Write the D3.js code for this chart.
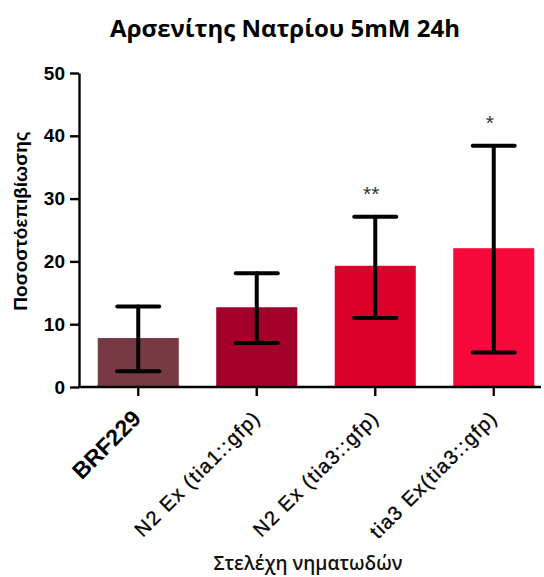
<!DOCTYPE html>
<html>
<head>
<meta charset="utf-8">
<script src="https://cdn.jsdelivr.net/npm/d3@7"></script>
<style>
  html, body { margin: 0; padding: 0; background: #fff; }
  svg { display: block; }
</style>
</head>
<body>
<svg id="chart" width="544" height="577"></svg>
<script>
// Survival (%) of nematode strains after 24h in 5mM sodium arsenite
const strains = ["BRF229", "N2 Ex (tia1::gfp)", "N2 Ex (tia3::gfp)", "tia3 Ex(tia3::gfp)"];
const meanSurvival = [7.8, 12.7, 19.3, 22.1];
const errLow = [2.5, 7.0, 11.0, 5.5];
const errHigh = [12.8, 18.1, 27.1, 38.4];
const significance = ["", "", "**", "*"];
const barColors = ["#773A44", "#A2002B", "#DA0029", "#F7093C"];
const yTicks = [0, 10, 20, 30, 40, 50];

const svg = d3.select("#chart");

const y = d3.scaleLinear().domain([0, 50]).range([387, 73]);
const x = d3.scaleBand().domain(strains).range([79, 553])
  .paddingInner(0.316).paddingOuter(0.158);

// Title
svg.append("text")
  .attr("x", 285).attr("y", 37)
  .attr("text-anchor", "middle")
  .attr("font-family", "'Open Sans', sans-serif")
  .attr("font-weight", 700)
  .attr("font-size", 24)
  .attr("fill", "#000")
  .text("Αρσενίτης Νατρίου 5mM 24h");

// Bars
svg.append("g").selectAll("rect")
  .data(strains)
  .join("rect")
  .attr("x", d => x(d))
  .attr("width", x.bandwidth())
  .attr("y", (d, i) => y(meanSurvival[i]))
  .attr("height", (d, i) => y(0) - y(meanSurvival[i]))
  .attr("fill", (d, i) => barColors[i]);

// Error bars
const capHalf = 21;
const eb = svg.append("g")
  .attr("stroke", "#000")
  .attr("stroke-width", 4)
  .attr("stroke-linecap", "round")
  .selectAll("g")
  .data(strains)
  .join("g");
eb.append("line")
  .attr("x1", d => x(d) + x.bandwidth() / 2)
  .attr("x2", d => x(d) + x.bandwidth() / 2)
  .attr("y1", (d, i) => y(errLow[i]))
  .attr("y2", (d, i) => y(errHigh[i]));
eb.append("line")
  .attr("x1", d => x(d) + x.bandwidth() / 2 - capHalf)
  .attr("x2", d => x(d) + x.bandwidth() / 2 + capHalf)
  .attr("y1", (d, i) => y(errHigh[i]))
  .attr("y2", (d, i) => y(errHigh[i]));
eb.append("line")
  .attr("x1", d => x(d) + x.bandwidth() / 2 - capHalf)
  .attr("x2", d => x(d) + x.bandwidth() / 2 + capHalf)
  .attr("y1", (d, i) => y(errLow[i]))
  .attr("y2", (d, i) => y(errLow[i]));

// Significance marks
svg.append("g").selectAll("text")
  .data(strains)
  .join("text")
  .attr("x", d => x(d) + x.bandwidth() / 2 - 4)
  .attr("y", (d, i) => y(errHigh[i]) - 16)
  .attr("text-anchor", "middle")
  .attr("font-family", "'Liberation Sans', Arial, sans-serif")
  .attr("font-size", 21)
  .attr("fill", "#333")
  .text((d, i) => significance[i]);

// Y axis
const yAxis = svg.append("g")
  .attr("transform", "translate(79,0)")
  .call(d3.axisLeft(y).tickValues(yTicks).tickSize(9).tickPadding(5).tickSizeOuter(0));
yAxis.select(".domain").attr("stroke", "#000").attr("stroke-width", 2.4);
yAxis.selectAll(".tick line").attr("stroke", "#000").attr("stroke-width", 2.4);
yAxis.selectAll(".tick text")
  .attr("font-family", "'Liberation Sans', Arial, sans-serif")
  .attr("font-weight", 700)
  .attr("font-size", 19)
  .attr("fill", "#000");

// X axis
const xAxis = svg.append("g")
  .attr("transform", "translate(0,387)")
  .call(d3.axisBottom(x).tickSize(9).tickSizeOuter(0));
xAxis.select(".domain").attr("d", "M78,0H541").attr("stroke", "#000").attr("stroke-width", 2.4);
xAxis.selectAll(".tick line").attr("stroke", "#000").attr("stroke-width", 2.4);
xAxis.selectAll(".tick text")
  .attr("text-anchor", "end")
  .attr("dy", null)
  .attr("y", null)
  .attr("transform", (d, i) => i === 0 ? "translate(4,33) rotate(-45)" : "translate(5,32) rotate(-45)")
  .attr("font-family", "'Liberation Sans', Arial, sans-serif")
  .attr("font-weight", (d, i) => i === 0 ? 700 : 400)
  .attr("font-size", (d, i) => i === 0 ? 23 : 20)
  .attr("letter-spacing", (d, i) => i === 0 ? 0 : 1.4)
  .attr("stroke", (d, i) => i === 0 ? "none" : "#000")
  .attr("stroke-width", 0.35)
  .attr("fill", "#000");

// Axis titles
svg.append("text")
  .attr("transform", "translate(27,221) rotate(-90)")
  .attr("text-anchor", "middle")
  .attr("font-family", "'Liberation Sans', Arial, sans-serif")
  .attr("font-weight", 700)
  .attr("font-size", 19)
  .attr("fill", "#000")
  .text("Ποσοστόεπιβίωσης");

svg.append("text")
  .attr("x", 308).attr("y", 570)
  .attr("text-anchor", "middle")
  .attr("font-family", "'Open Sans', sans-serif")
  .attr("font-weight", 600)
  .attr("font-size", 19)
  .attr("fill", "#111")
  .text("Στελέχη νηματωδών");
</script>
</body>
</html>
